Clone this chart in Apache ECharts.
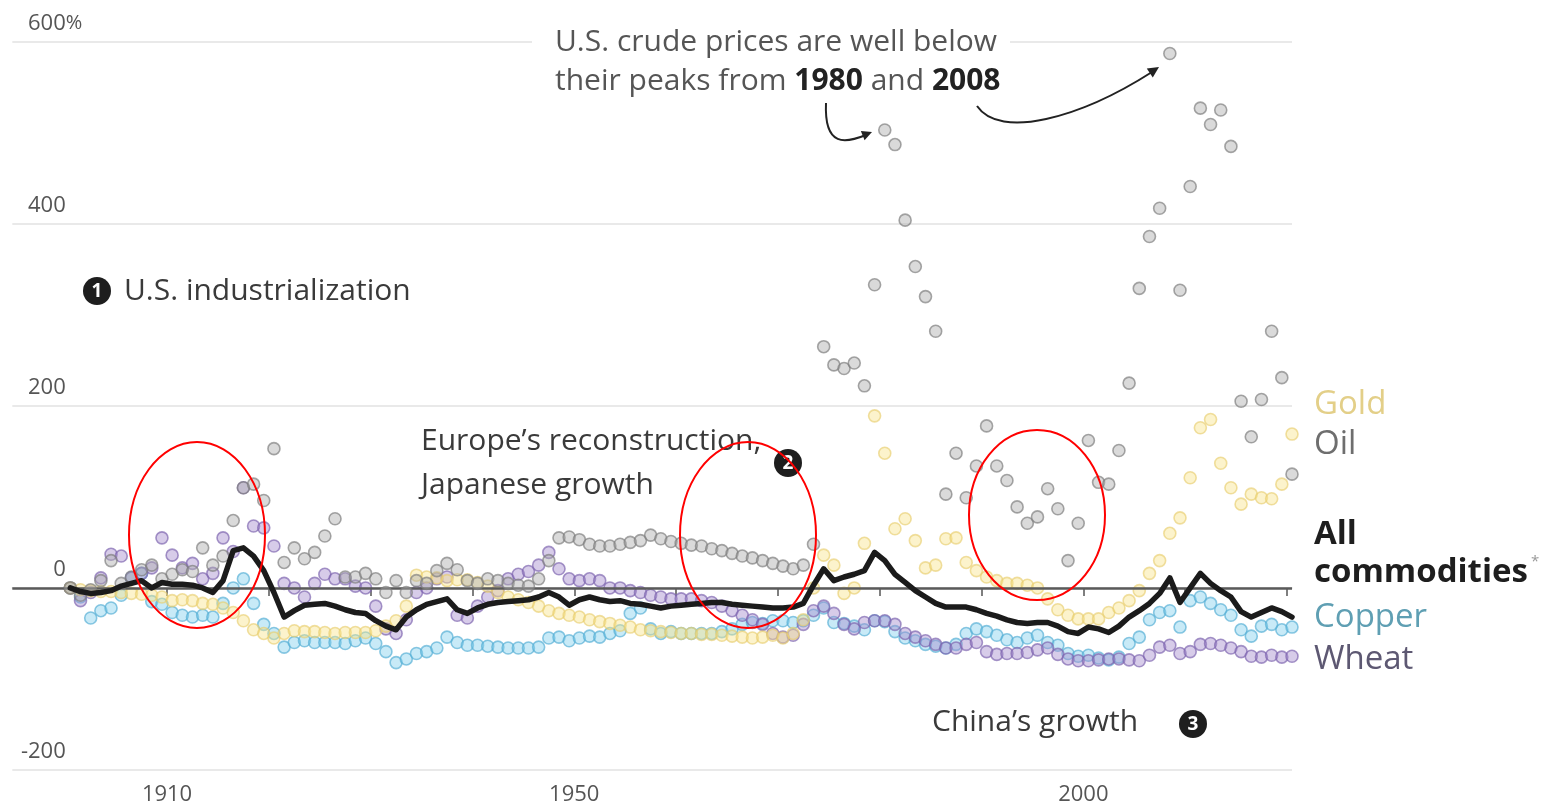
<!DOCTYPE html>
<html>
<head>
<meta charset="utf-8">
<script src="https://cdn.jsdelivr.net/npm/echarts@6/dist/echarts.min.js"></script>
<style>
html,body{margin:0;padding:0;background:#fff;}
#chart{width:1542px;height:808px;}
</style>
</head>
<body>
<div id="chart"></div>
<script>
// ---- categories ----
const firstYear = 1900, lastYear = 2020;
const years = [];
for (let y = firstYear; y <= lastYear; y++) years.push(y);

// ---- tick labels ----
const yTicks = [-200, 0, 200, 400, 600];
const xTickYears = [1910, 1920, 1930, 1940, 1950, 1960, 1970, 1980, 1990, 2000, 2010, 2020];
const xLabelYears = [1910, 1950, 2000];

// ---- series values (% change, real terms), 1900..2020 ----
const allCommodities = [
  0,-4,-6,-5,-3,2,5,8,0,6,
  4,4,3,0,-5,8,41,44,35,19,
  -5,-32,-25,-19,-18,-17,-20,-24,-27,-28,
  -36,-42,-46,-32,-24,-18,-15,-12,-24,-28,
  -22,-18,-16,-15,-14,-13,-10,-5,-10,-19,
  -13,-10,-13,-15,-14,-17,-18,-20,-22,-20,
  -19,-18,-17,-16,-16,-18,-19,-20,-21,-22,
  -22,-21,-17,3,21,8,12,15,19,39,
  30,15,6,-3,-10,-17,-21,-21,-21,-24,
  -28,-31,-35,-38,-39,-38,-38,-42,-48,-50,
  -43,-45,-49,-42,-32,-25,-17,-6,11,-16,
  0,16,5,-3,-10,-26,-32,-27,-22,-26,
  -32
];
const oil = [
  0,-8,-2,8,30,5,12,20,25,10,
  15,20,18,44,25,35,74,110,114,96,
  153,28,44,32,39,57,76,12,12,16,
  10,-5,8,-5,8,5,19,27,20,8,
  5,10,8,5,3,2,10,30,55,56,
  53,48,46,46,48,50,52,58,54,51,
  49,47,46,43,41,38,35,33,30,27,
  24,21,25,48,265,245,241,247,222,333,
  503,487,404,353,320,282,103,148,99,134,
  178,134,118,89,71,78,109,87,30,71,
  162,116,114,151,225,329,386,417,587,327,
  441,527,509,525,485,205,166,207,282,231,
  125
];
const gold = [
  0,-2,-3,-4,-4,-5,-6,-7,-8,-10,
  -14,-13,-14,-17,-18,-22,-27,-36,-46,-50,
  -55,-50,-47,-48,-48,-49,-50,-49,-49,-49,
  -47,-42,-36,-20,14,12,11,8,9,9,
  6,2,-5,-10,-13,-16,-20,-25,-28,-30,
  -32,-35,-37,-39,-41,-43,-46,-47,-48,-49,
  -50,-50,-51,-51,-52,-53,-54,-55,-54,-52,
  -55,-50,-35,0,36,25,-6,0,49,189,
  148,65,76,52,22,25,54,55,28,19,
  12,8,5,5,3,0,-12,-24,-30,-34,
  -34,-34,-27,-22,-14,-3,16,30,60,77,
  121,176,185,137,110,92,103,99,98,114,
  169
];
const copper = [
  0,-10,-33,-25,-22,-8,11,16,-15,-18,
  -27,-30,-32,-30,-32,-17,0,10,-17,-40,
  -50,-65,-60,-58,-60,-60,-60,-61,-58,-55,
  -61,-70,-82,-78,-72,-70,-66,-54,-60,-63,
  -63,-64,-65,-66,-66,-66,-65,-55,-54,-58,
  -55,-53,-54,-50,-47,-28,-22,-45,-50,-48,
  -50,-50,-50,-50,-48,-45,-40,-38,-39,-36,
  -36,-38,-36,-30,-22,-38,-39,-42,-46,-36,
  -37,-48,-55,-58,-62,-64,-66,-62,-50,-45,
  -48,-52,-57,-60,-55,-52,-60,-63,-72,-75,
  -74,-77,-79,-76,-61,-54,-35,-27,-25,-43,
  -14,-10,-17,-24,-30,-46,-53,-42,-40,-46,
  -43
];
const wheat = [
  0,-14,-5,11,37,35,11,16,22,55,
  36,22,27,10,16,55,40,110,68,66,
  46,5,0,-10,5,15,10,10,2,0,
  -20,-45,-50,-35,-5,0,10,12,-30,-33,
  -20,-10,-3,10,15,18,25,39,21,10,
  8,10,8,0,0,-3,-5,-8,-10,-12,
  -12,-12,-14,-16,-20,-25,-30,-35,-40,-50,
  -54,-52,-40,-25,-20,-28,-40,-45,-38,-36,
  -36,-40,-50,-54,-58,-62,-66,-66,-62,-60,
  -70,-73,-72,-72,-71,-68,-66,-73,-78,-80,
  -80,-79,-78,-78,-79,-80,-74,-65,-63,-72,
  -70,-62,-61,-63,-66,-70,-75,-76,-74,-76,
  -75
];

// annual values are plotted at mid-year
const pts = vals => years.map((y, i) => [y + 0.5, vals[i]]);

const FONT = '"Open Sans", "Noto Sans", sans-serif';

function dotSeries(name, vals, fill, stroke, z) {
  return {
    name, type: 'scatter', data: pts(vals), z,
    symbol: 'circle', symbolSize: 12,
    itemStyle: { color: fill, borderColor: stroke, borderWidth: 1.6 },
    silent: true, clip: false
  };
}

function arrowHead(x, y, ang, size) {
  const bx = x - size * Math.cos(ang), by = y - size * Math.sin(ang);
  const px = -Math.sin(ang) * size * 0.5, py = Math.cos(ang) * size * 0.5;
  return { type: 'polygon', shape: { points: [[x, y], [bx + px, by + py], [bx - px, by - py]] },
           style: { fill: '#222' }, z: 100 };
}

function badge(cx, cy, n) {
  return [
    { type: 'circle', shape: { cx, cy, r: 14 }, style: { fill: '#1e1e1e' }, z: 100 },
    { type: 'text', x: cx, y: cy + 1, z: 101,
      style: { text: String(n), font: 'bold 19px ' + FONT, fill: '#fff', align: 'center', verticalAlign: 'middle' } }
  ];
}

function label(x, y, text, size, color, weight) {
  return { type: 'text', x, y, z: 100,
    style: { text, font: (weight || 'normal') + ' ' + size + 'px ' + FONT, fill: color, align: 'left', verticalAlign: 'middle' } };
}

const chart = echarts.init(document.getElementById('chart'), null, { renderer: 'canvas' });

const option = {
  backgroundColor: '#ffffff',
  animation: false,
  grid: { left: 12.3, right: 250, top: 41.7, bottom: 38, containLabel: false },
  xAxis: {
    type: 'value', min: 1894.8, max: 2020.5,
    splitLine: { show: false },
    axisLine: { show: true, lineStyle: { color: '#dedede', width: 1.5 } },
    axisTick: { show: true, customValues: xTickYears, length: 8, lineStyle: { color: '#555', width: 1.5 } },
    axisLabel: { customValues: xLabelYears, margin: 14, fontSize: 22, color: '#555', fontFamily: FONT,
                 formatter: v => String(v) }
  },
  yAxis: {
    type: 'value', min: -200, max: 600, interval: 200,
    axisLine: { show: false }, axisTick: { show: false },
    splitLine: { show: true, lineStyle: { color: '#e2e2e2', width: 1.5 } },
    axisLabel: {
      inside: true, align: 'right', verticalAlign: 'bottom', margin: 70,
      padding: [0, 0, 7, 0],
      fontSize: 22, color: '#555', fontFamily: FONT,
      formatter: v => (v === 600 ? '600{p|%}' : String(v) + '{h|%}'),
      rich: { p: { fontSize: 20, color: '#555', fontFamily: FONT }, h: { fontSize: 20, color: 'rgba(0,0,0,0)', fontFamily: FONT } }
    }
  },
  series: [
    Object.assign(dotSeries('Copper', copper, 'rgba(130,208,236,0.55)', 'rgba(85,175,212,0.85)', 2), {
      markLine: { silent: true, symbol: 'none', label: { show: false },
        lineStyle: { color: '#5a5a5a', width: 2.5, type: 'solid' },
        data: [{ yAxis: 0 }] }
    }),
    dotSeries('Wheat', wheat, 'rgba(165,140,205,0.55)', 'rgba(125,100,175,0.85)', 3),
    dotSeries('Gold', gold, 'rgba(248,228,140,0.55)', 'rgba(232,205,110,0.8)', 4),
    dotSeries('Oil', oil, 'rgba(170,170,170,0.55)', 'rgba(125,125,125,0.85)', 5),
    {
      name: 'All commodities', type: 'line', data: pts(allCommodities), z: 10,
      symbol: 'none', smooth: false, clip: false, silent: true,
      lineStyle: { color: '#1b1b1b', width: 5.5, join: 'round', cap: 'round' }
    }
  ],
  graphic: [
    // top annotation (white box hides the gridline behind the text)
    { type: 'rect', shape: { x: 532, y: 22, width: 478, height: 80 }, style: { fill: '#fff' }, z: 50 },
    label(555, 42, 'U.S. crude prices are well below', 30, '#555'),
    { type: 'text', x: 555, y: 81, z: 100,
      style: { text: 'their peaks from {b|1980} and {b|2008}', font: '30px ' + FONT, fill: '#555',
               align: 'left', verticalAlign: 'middle',
               rich: { b: { font: 'bold 30px ' + FONT, fill: '#222' } } } },
    { type: 'bezierCurve', shape: { x1: 826, y1: 103, cpx1: 824, cpy1: 148, cpx2: 846, cpy2: 143, x2: 866, y2: 135 },
      style: { stroke: '#222', lineWidth: 2, fill: null }, z: 100 },
    arrowHead(872, 132, Math.atan2(-4, 10), 10),
    { type: 'bezierCurve', shape: { x1: 977, y1: 106, cpx1: 1000, cpy1: 140, cpx2: 1080, cpy2: 118, x2: 1152, y2: 72 },
      style: { stroke: '#222', lineWidth: 2, fill: null }, z: 100 },
    arrowHead(1159, 67, Math.atan2(-47, 72), 11),

    ...badge(97, 291, 1),
    label(124, 291, 'U.S. industrialization', 30, '#3a3a3a'),

    label(421, 441, 'Europe\u2019s reconstruction,', 30, '#3a3a3a'),
    label(421, 485, 'Japanese growth', 30, '#3a3a3a'),
    ...badge(788, 463, 2),

    label(932, 722, 'China\u2019s growth', 30, '#3a3a3a'),
    ...badge(1193, 724, 3),

    // end labels
    label(1314, 405, 'Gold', 33, '#e3cf88'),
    label(1314, 445, 'Oil', 33, '#6e6e6e'),
    label(1314, 535, 'All', 33, '#1e1e1e', 'bold'),
    label(1314, 573, 'commodities', 33, '#1e1e1e', 'bold'),
    label(1531, 562, '*', 15, '#999'),
    label(1314, 618, 'Copper', 33, '#5f9fb3'),
    label(1314, 660, 'Wheat', 33, '#5d5872'),

    // red highlight ellipses
    { type: 'ellipse', shape: { cx: 197, cy: 535, rx: 68, ry: 93 }, style: { fill: null, stroke: '#ff0000', lineWidth: 2 }, z: 120 },
    { type: 'ellipse', shape: { cx: 748, cy: 535, rx: 68, ry: 93 }, style: { fill: null, stroke: '#ff0000', lineWidth: 2 }, z: 120 },
    { type: 'ellipse', shape: { cx: 1037, cy: 515, rx: 68, ry: 85 }, style: { fill: null, stroke: '#ff0000', lineWidth: 2 }, z: 120 }
  ]
};

chart.setOption(option);
</script>
</body>
</html>
